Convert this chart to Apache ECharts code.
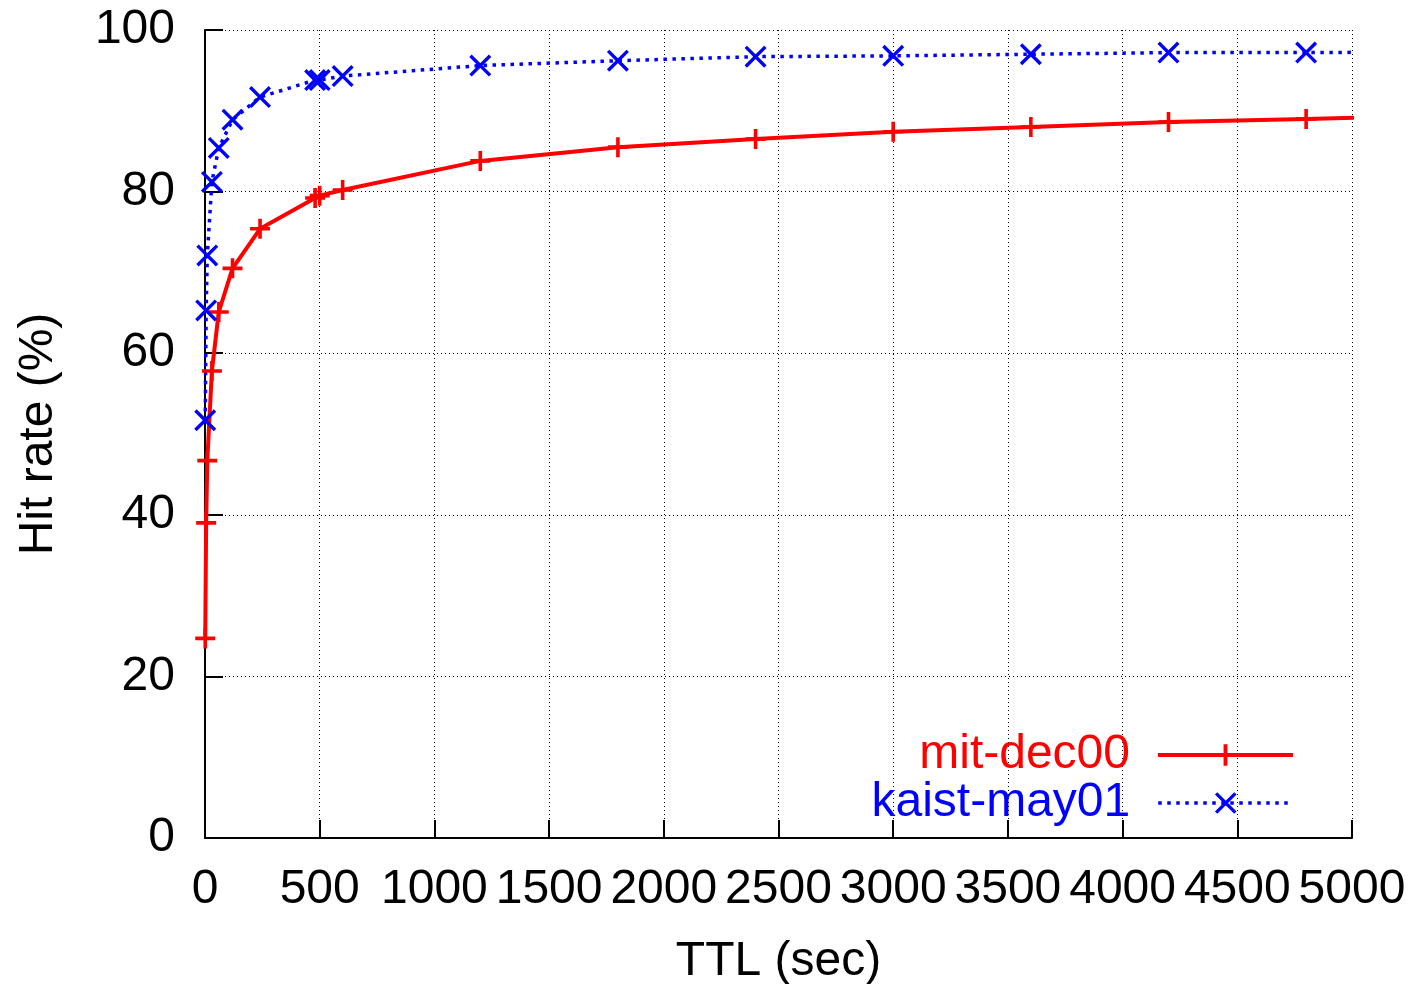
<!DOCTYPE html>
<html>
<head>
<meta charset="utf-8">
<title>Hit rate vs TTL</title>
<script src="https://cdn.jsdelivr.net/npm/echarts@6/dist/echarts.min.js"></script>
<style>
  html, body { margin: 0; padding: 0; background: #fff; }
  #chart { width: 1409px; height: 984px; }
</style>
</head>
<body>
<div id="chart"></div>
<script>
  // TTL in seconds (last one lies past the axis end, only the line reaches the border)
  var ttl = [1, 5, 10, 30, 60, 120, 240, 480, 500, 600, 1200, 1800, 2400, 3000, 3600, 4200, 4800, 5400];
  var mitDec00 = [24.7, 39.0, 46.7, 57.8, 65.1, 70.5, 75.4, 79.2, 79.5, 80.2, 83.8, 85.5, 86.5, 87.4, 88.0, 88.6, 89.0, 89.4];
  var kaistMay01 = [51.7, 65.3, 72.1, 81.2, 85.4, 88.9, 91.7, 93.8, 93.8, 94.3, 95.6, 96.2, 96.7, 96.8, 97.0, 97.2, 97.2, 97.3];
  var seriesNames = ['mit-dec00', 'kaist-may01'];

  var plusPath = 'path://M0,8.2H20V11.8H0Z M8.2,0H11.8V20H8.2Z';
  var crossPath = 'path://M0,2.4L2.4,0L22,19.6L19.6,22Z M19.6,0L22,2.4L2.4,22L0,19.6Z';
  var font = 'Liberation Sans, Arial, sans-serif';
  var fs = 48;

  var redLine = { color: '#ff0000', width: 4, type: 'solid' };
  var blueLine = { color: '#0000ff', width: 3.5, type: [3.5, 5.5] };

  function pairs(xs, ys) {
    var out = [];
    for (var i = 0; i < xs.length; i++) {
      out.push([xs[i], ys[i]]);
    }
    return out;
  }

  var gridLine = { show: true, lineStyle: { color: '#000', width: 1, type: [1, 3] } };

  var myChart = echarts.init(document.getElementById('chart'));
  myChart.setOption({
    animation: false,
    textStyle: { fontFamily: font },
    grid: { left: 205, right: 57, top: 30, bottom: 146, containLabel: false, outerBoundsMode: 'none' },
    legend: [
      {
        data: [seriesNames[0]],
        right: 114,
        top: 731,
        padding: 0,
        align: 'right',
        itemWidth: 135,
        itemHeight: 27,
        lineStyle: redLine,
        textStyle: { color: '#ff0000', fontSize: fs, fontFamily: font, padding: [0, 23, 0, 0] }
      },
      {
        data: [seriesNames[1]],
        right: 114,
        top: 779,
        padding: 0,
        align: 'right',
        itemWidth: 135,
        itemHeight: 27,
        lineStyle: blueLine,
        textStyle: { color: '#0000ff', fontSize: fs, fontFamily: font, padding: [0, 23, 0, 0] }
      }
    ],
    xAxis: {
      type: 'value',
      min: 0,
      max: 5000,
      interval: 500,
      name: 'TTL (sec)',
      nameLocation: 'middle',
      nameGap: 100,
      nameTextStyle: { color: '#000', fontSize: fs, fontFamily: font },
      axisLine: { onZero: false, lineStyle: { color: '#000', width: 2 } },
      axisTick: { inside: true, length: 18, lineStyle: { color: '#000', width: 2 } },
      axisLabel: {
        color: '#000',
        fontSize: fs,
        fontFamily: font,
        margin: 28,
        showMinLabel: true,
        showMaxLabel: true,
        hideOverlap: false,
        formatter: function (v) { return String(v); }
      },
      splitLine: gridLine
    },
    yAxis: {
      type: 'value',
      min: 0,
      max: 100,
      interval: 20,
      name: 'Hit rate (%)',
      nameLocation: 'middle',
      nameGap: 142,
      nameTextStyle: { color: '#000', fontSize: fs, fontFamily: font },
      axisLine: { show: true, onZero: false, lineStyle: { color: '#000', width: 2 } },
      axisTick: { show: true, inside: true, length: 18, lineStyle: { color: '#000', width: 2 } },
      axisLabel: { color: '#000', fontSize: fs, fontFamily: font, margin: 30 },
      splitLine: gridLine
    },
    series: [
      {
        name: seriesNames[0],
        type: 'line',
        data: pairs(ttl, mitDec00),
        symbol: plusPath,
        symbolSize: 20,
        clip: true,
        itemStyle: { color: '#ff0000' },
        lineStyle: redLine
      },
      {
        name: seriesNames[1],
        type: 'line',
        data: pairs(ttl, kaistMay01),
        symbol: crossPath,
        symbolSize: 22,
        clip: true,
        itemStyle: { color: '#0000ff' },
        lineStyle: blueLine
      }
    ]
  });

  window.onresize = function () {
    myChart.resize();
  };
</script>
</body>
</html>
